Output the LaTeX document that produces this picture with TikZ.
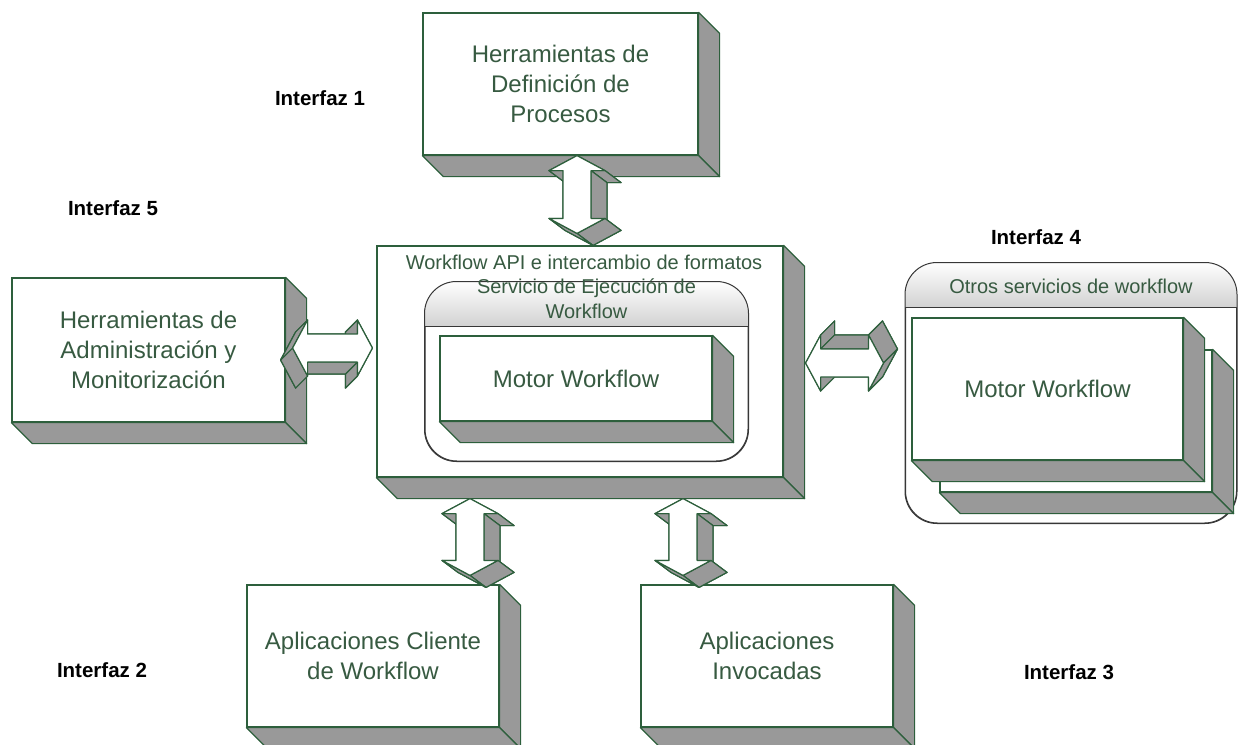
\documentclass[tikz,border=0pt]{standalone}
\usepackage{fontspec}
\setmainfont{Liberation Sans}
\usetikzlibrary{calc}
\definecolor{lg}{RGB}{45,95,60}
\definecolor{tg}{RGB}{55,90,65}
\definecolor{sg}{RGB}{153,153,153}
\definecolor{cg}{RGB}{55,55,55}
\tikzset{
  box/.style={draw=lg, line width=1.2pt, fill=white, text=tg, align=center, inner sep=0pt,
    font=\fontsize{24}{30}\selectfont},
  side/.style={draw=lg, line width=1.2pt, fill=sg, line join=round},
  arrowfront/.style={draw=lg, line width=1.2pt, fill=white, line join=round},
  cont/.style={draw=cg, line width=1pt, fill=white, rounded corners=32pt, inner sep=0pt},
  hdrline/.style={draw=cg, line width=1.6pt},
  iface/.style={font=\bfseries\fontsize{20.5}{24}\selectfont, text=black},
  hdr/.style={text=tg, font=\fontsize{20}{25}\selectfont, align=center, inner sep=0pt},
}
\newcommand\boxdepth[1]{%
  \draw[side] (#1.north east) -- ++(21,21) -- ($(#1.south east)+(21,21)$) -- (#1.south east) -- cycle;
  \draw[side] (#1.south west) -- (#1.south east) -- ($(#1.south east)+(21,21)$) -- ($(#1.south west)+(21,21)$) -- cycle;
}
% #1 name, #2 start, #3 end, #4 ox, #5 oy (screen pixels)
\newcommand\tdarrow[5]{%
  \coordinate (#1-1) at #2;
  \coordinate (#1-6) at #3;
  \coordinate (#1-2) at ($(#1-1)!15pt!(#1-6)!28pt!90:(#1-6)$);
  \coordinate (#1-3) at ($(#1-1)!15pt!(#1-6)!14pt!90:(#1-6)$);
  \coordinate (#1-4) at ($(#1-6)!15pt!(#1-1)!14pt!-90:(#1-1)$);
  \coordinate (#1-5) at ($(#1-6)!15pt!(#1-1)!28pt!-90:(#1-1)$);
  \coordinate (#1-7) at ($(#1-6)!15pt!(#1-1)!28pt!90:(#1-1)$);
  \coordinate (#1-8) at ($(#1-6)!15pt!(#1-1)!14pt!90:(#1-1)$);
  \coordinate (#1-9) at ($(#1-1)!15pt!(#1-6)!14pt!-90:(#1-6)$);
  \coordinate (#1-10) at ($(#1-1)!15pt!(#1-6)!28pt!-90:(#1-6)$);
  \draw[side] ($(#1-1)+(#4,#5)$) \foreach \k in {2,...,10}{ -- ($(#1-\k)+(#4,#5)$)} -- cycle;
  \foreach \pass in {0,1}{
    \foreach \k in {1,...,10}{
      \pgfmathtruncatemacro\kn{mod(\k,10)+1}
      \path (#1-\k); \pgfgetlastxy{\ax}{\ay}
      \path (#1-\kn); \pgfgetlastxy{\bx}{\by}
      \pgfmathtruncatemacro\vis{(((\by)-(\ay))*(#4)+((\bx)-(\ax))*(#5))<0 ? 1 : 0}
      \ifnum\vis=\pass
        \draw[side] (#1-\k) -- (#1-\kn) -- ($(#1-\kn)+(#4,#5)$) -- ($(#1-\k)+(#4,#5)$) -- cycle;
      \fi
    }
  }
  \draw[arrowfront] (#1-1) \foreach \k in {2,...,10}{ -- (#1-\k)} -- cycle;
}
\begin{document}
\begin{tikzpicture}[x=1pt,y=-1pt]
\useasboundingbox (0,0) rectangle (1238,744);

% top box
\node[box, minimum width=275pt, minimum height=142pt] (defproc) at (560.5,84) {Herramientas de\\Definición de\\Procesos};
\boxdepth{defproc}

% left box
\node[box, minimum width=273pt, minimum height=144pt] (admin) at (148.5,350) {Herramientas de\\Administración y\\Monitorización};
\boxdepth{admin}

% central box
\node[box, minimum width=406pt, minimum height=231pt] (api) at (580,361.5) {};
\boxdepth{api}
\node[hdr] (apit) at (584,262) {Workflow API e intercambio de formatos};

% inner container
\node[cont, minimum width=323pt, minimum height=179pt] (serv) at (586.5,371.5) {};
\begin{scope}
  \clip[rounded corners=32pt] (serv.north west) rectangle (serv.south east);
  \shade[top color=white, bottom color=black!18] (serv.north west) rectangle ($(serv.north east)+(0,45)$);
\end{scope}
\draw[draw=cg, line width=1pt, rounded corners=32pt] (serv.north west) rectangle (serv.south east);
\draw[hdrline] ($(serv.north west)+(0,45)$) -- ($(serv.north east)+(0,45)$);
\node[hdr] (servt) at (586.5,299) {Servicio de Ejecución de\\Workflow};
\node[box, minimum width=272pt, minimum height=85pt] (motor1) at (576,378.5) {Motor Workflow};
\boxdepth{motor1}

% right container
\node[cont, minimum width=331pt, minimum height=260pt] (otros) at (1071,393) {};
\begin{scope}
  \clip[rounded corners=32pt] (otros.north west) rectangle (otros.south east);
  \shade[top color=white, bottom color=black!18] (otros.north west) rectangle ($(otros.north east)+(0,45)$);
\end{scope}
\draw[draw=cg, line width=1pt, rounded corners=32pt] (otros.north west) rectangle (otros.south east);
\draw[hdrline] ($(otros.north west)+(0,45)$) -- ($(otros.north east)+(0,45)$);
\node[hdr] (otrost) at (1071,286) {Otros servicios de workflow};
\node[box, minimum width=272pt, minimum height=142pt] (motor3) at (1076,421) {};
\boxdepth{motor3}
\node[box, minimum width=271pt, minimum height=142pt] (motor2) at (1047.5,389) {Motor Workflow};
\boxdepth{motor2}

% bottom boxes
\node[box, minimum width=252pt, minimum height=142pt] (cliente) at (373,656) {Aplicaciones Cliente\\de Workflow};
\boxdepth{cliente}
\node[box, minimum width=252pt, minimum height=142pt] (invoc) at (767,656) {Aplicaciones\\Invocadas};
\boxdepth{invoc}

% interface labels
\node[iface] (i1) at (320,98) {Interfaz 1};
\node[iface] (i5) at (113,208) {Interfaz 5};
\node[iface] (i4) at (1036,237) {Interfaz 4};
\node[iface] (i2) at (102,670) {Interfaz 2};
\node[iface] (i3) at (1069,672) {Interfaz 3};

% 3D double arrows
\tdarrow{a1}{($(defproc.south)+(16.5,0)$)}{($(api.north)+(-3,-12)$)}{16}{12}
\tdarrow{a5}{($(api.west)+(-4,-13.5)$)}{($(admin.east)+(7,-2)$)}{-12}{12}
\tdarrow{a4}{($(api.east)+(22,1.5)$)}{($(otros.west)+(-21.5,-30)$)}{14}{-14}
\tdarrow{a2}{($(api.south)+(-110,21)$)}{($(cliente.north)+(97,-9)$)}{16}{12}
\tdarrow{a3}{($(api.south)+(103,21)$)}{($(invoc.north)+(-84,-9)$)}{16}{12}
\end{tikzpicture}
\end{document}
